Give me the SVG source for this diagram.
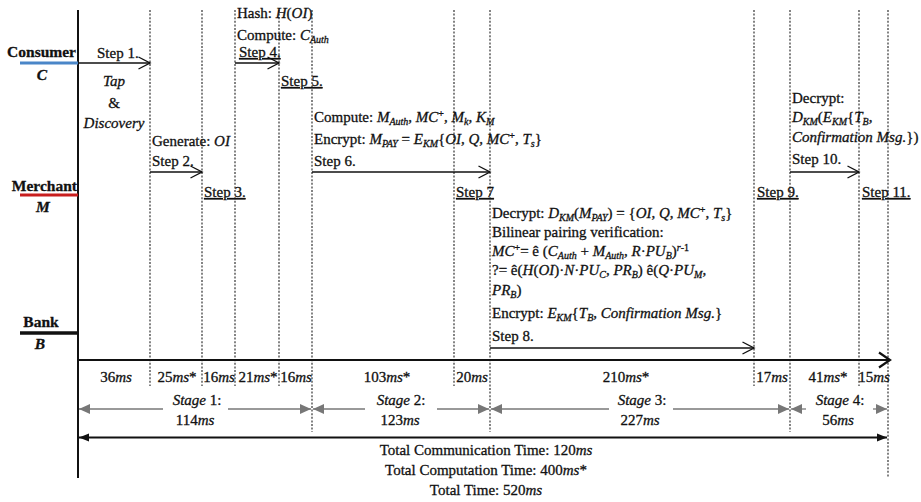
<svg xmlns="http://www.w3.org/2000/svg" width="921" height="502" viewBox="0 0 921 502">
<style>
text{font-family:"Liberation Serif","Times New Roman",serif;font-size:15px;fill:#111;stroke:#111;stroke-width:0.3}
.b{font-weight:bold}
.i{font-style:italic}
.sb{font-size:10px;baseline-shift:-3px}
.sp{font-size:10px;baseline-shift:5px}
.u{text-decoration:underline}
.m{text-anchor:middle}
.dot{stroke:#333;stroke-width:1.2;stroke-dasharray:2 1.6;fill:none}
.step{stroke:#111;stroke-width:1.4;fill:none;marker-end:url(#open)}
.stage{stroke:#777;stroke-width:1.3;fill:none}
</style>
<defs>
<marker id="open" viewBox="0 0 14 14" refX="12.5" refY="7" markerWidth="14" markerHeight="14" markerUnits="userSpaceOnUse" orient="auto"><path d="M1,1 L12.5,7 L1,13" fill="none" stroke="#111" stroke-width="1.4"/></marker>
<marker id="openBig" viewBox="0 0 14 18" refX="12" refY="9" markerWidth="14" markerHeight="18" markerUnits="userSpaceOnUse" orient="auto"><path d="M1,1.5 L12,9 L1,16.5" fill="none" stroke="#111" stroke-width="2.2"/></marker>
<marker id="grey" viewBox="0 0 10 10" refX="10" refY="5" markerWidth="11" markerHeight="11" markerUnits="userSpaceOnUse" orient="auto"><path d="M0,0.5 L10,5 L0,9.5 Z" fill="#777"/></marker>
<marker id="blk" viewBox="0 0 10 10" refX="10" refY="5" markerWidth="10" markerHeight="10" markerUnits="userSpaceOnUse" orient="auto-start-reverse"><path d="M0,1 L10,5 L0,9 Z" fill="#111"/></marker>
</defs>
<rect width="921" height="502" fill="#fff"/>

<g id="grid">
<line class="dot" x1="150" y1="10" x2="150" y2="386"/>
<line class="dot" x1="202" y1="10" x2="202" y2="386"/>
<line class="dot" x1="235" y1="10" x2="235" y2="386"/>
<line class="dot" x1="279" y1="10" x2="279" y2="386"/>
<line class="dot" x1="312" y1="10" x2="312" y2="432"/>
<line class="dot" x1="454" y1="10" x2="454" y2="386"/>
<line class="dot" x1="490" y1="10" x2="490" y2="432"/>
<line class="dot" x1="754" y1="10" x2="754" y2="386"/>
<line class="dot" x1="790" y1="10" x2="790" y2="432"/>
<line class="dot" x1="859" y1="10" x2="859" y2="386"/>
<line class="dot" x1="888" y1="10" x2="888" y2="478"/>
<line x1="78" y1="10" x2="78" y2="478" stroke="#111" stroke-width="2"/>
</g>

<g id="consumer">
<line x1="20" y1="63" x2="78" y2="63" stroke="#4a86c8" stroke-width="3"/>
<text class="b" x="76" y="57" text-anchor="end" style="font-size:15.5px">Consumer</text>
<text class="b i m" x="42" y="80" style="font-size:15.5px">C</text>
</g>
<g id="merchant">
<line x1="20" y1="195" x2="78" y2="195" stroke="#c81e1e" stroke-width="3"/>
<text class="b" x="77" y="191" text-anchor="end" style="font-size:15.5px">Merchant</text>
<text class="b i m" x="43" y="212" style="font-size:15.5px">M</text>
</g>
<g id="bank">
<line x1="20" y1="333" x2="78" y2="333" stroke="#111" stroke-width="3.5"/>
<text class="b m" x="41" y="327" style="font-size:15.5px">Bank</text>
<text class="b i m" x="40" y="349" style="font-size:15.5px">B</text>
</g>

<g id="connectors">
<line class="step" x1="78" y1="63" x2="150" y2="63"/>
<line class="step" x1="150" y1="172" x2="202" y2="172"/>
<line class="step" x1="235" y1="63" x2="279" y2="63"/>
<line class="step" x1="312" y1="172" x2="490" y2="172"/>
<line class="step" x1="490" y1="348" x2="754" y2="348"/>
<line class="step" x1="790" y1="172" x2="859" y2="172"/>
<line x1="78" y1="360" x2="890" y2="360" stroke="#111" stroke-width="2.2" marker-end="url(#openBig)"/>
</g>

<g id="step1">
<text x="97" y="58">Step 1.</text>
<text class="i m" x="114" y="86">Tap</text>
<text class="m" x="114" y="108">&amp;</text>
<text class="i m" x="114" y="128">Discovery</text>
</g>
<g id="step2">
<text x="152" y="146">Generate: <tspan class="i">OI</tspan></text>
<text x="152" y="166">Step 2.</text>
</g>
<g id="step3"><text class="u" x="204" y="197">Step 3.</text></g>
<g id="step4">
<text x="237" y="18">Hash: <tspan class="i">H</tspan>(<tspan class="i">OI</tspan>)</text>
<text x="237" y="40">Compute: <tspan class="i">C</tspan><tspan class="sb i">Auth</tspan></text>
<text class="u" x="239" y="57">Step 4.</text>
</g>
<g id="step5"><text class="u" x="281" y="86">Step 5.</text></g>
<g id="step6">
<text x="314" y="122">Compute: <tspan class="i">M</tspan><tspan class="sb i">Auth</tspan>, <tspan class="i">MC</tspan><tspan class="sp">+</tspan>, <tspan class="i">M</tspan><tspan class="sb i">k</tspan>, <tspan class="i">K</tspan><tspan class="sb i">M</tspan></text>
<text x="314" y="144">Encrypt: <tspan class="i">M</tspan><tspan class="sb i">PAY</tspan> = <tspan class="i">E</tspan><tspan class="sb i">KM</tspan>{<tspan class="i">OI</tspan>, <tspan class="i">Q</tspan>, <tspan class="i">MC</tspan><tspan class="sp">+</tspan>, <tspan class="i">T</tspan><tspan class="sb i">s</tspan>}</text>
<text x="314" y="166">Step 6.</text>
</g>
<g id="step7"><text class="u" x="456" y="197">Step 7</text></g>
<g id="step8">
<text x="492" y="218">Decrypt: <tspan class="i">D</tspan><tspan class="sb i">KM</tspan>(<tspan class="i">M</tspan><tspan class="sb i">PAY</tspan>) = {<tspan class="i">OI</tspan>, <tspan class="i">Q</tspan>, <tspan class="i">MC</tspan><tspan class="sp">+</tspan>, <tspan class="i">T</tspan><tspan class="sb i">s</tspan>}</text>
<text x="492" y="237">Bilinear pairing verification:</text>
<text x="492" y="256"><tspan class="i">MC</tspan><tspan class="sp">+</tspan>= ê (<tspan class="i">C</tspan><tspan class="sb i">Auth</tspan> + <tspan class="i">M</tspan><tspan class="sb i">Auth</tspan>, <tspan class="i">R</tspan>·<tspan class="i">PU</tspan><tspan class="sb i">B</tspan>)<tspan class="sp"><tspan class="i">r</tspan>-1</tspan></text>
<text x="492" y="275">?= ê(<tspan class="i">H</tspan>(<tspan class="i">OI</tspan>)·<tspan class="i">N</tspan>·<tspan class="i">PU</tspan><tspan class="sb i">C</tspan>, <tspan class="i">PR</tspan><tspan class="sb i">B</tspan>) ê(<tspan class="i">Q</tspan>·<tspan class="i">PU</tspan><tspan class="sb i">M</tspan>,</text>
<text x="492" y="295"><tspan class="i">PR</tspan><tspan class="sb i">B</tspan>)</text>
<text x="492" y="318">Encrypt: <tspan class="i">E</tspan><tspan class="sb i">KM</tspan>{<tspan class="i">T</tspan><tspan class="sb i">B</tspan>, <tspan class="i">Confirmation Msg.</tspan>}</text>
<text x="492" y="341">Step 8.</text>
</g>
<g id="step9"><text class="u" x="757" y="197">Step 9.</text></g>
<g id="step10">
<text x="792" y="103">Decrypt:</text>
<text x="792" y="122"><tspan class="i">D</tspan><tspan class="sb i">KM</tspan>(<tspan class="i">E</tspan><tspan class="sb i">KM</tspan>{<tspan class="i">T</tspan><tspan class="sb i">B</tspan>,</text>
<text x="792" y="142"><tspan class="i">Confirmation Msg.</tspan>})</text>
<text x="792" y="164">Step 10.</text>
</g>
<g id="step11"><text class="u" x="862" y="197">Step 11.</text></g>

<g id="timings">
<text class="m" x="116" y="382">36<tspan class="i">ms</tspan></text>
<text class="m" x="177" y="382">25<tspan class="i">ms</tspan>*</text>
<text class="m" x="219" y="382">16<tspan class="i">ms</tspan></text>
<text class="m" x="258" y="382">21<tspan class="i">ms</tspan>*</text>
<text class="m" x="296" y="382">16<tspan class="i">ms</tspan></text>
<text class="m" x="387" y="382">103<tspan class="i">ms</tspan>*</text>
<text class="m" x="472" y="382">20<tspan class="i">ms</tspan></text>
<text class="m" x="626" y="382">210<tspan class="i">ms</tspan>*</text>
<text class="m" x="772" y="382">17<tspan class="i">ms</tspan></text>
<text class="m" x="828" y="382">41<tspan class="i">ms</tspan>*</text>
<text class="m" x="874" y="382">15<tspan class="i">ms</tspan></text>
</g>

<g id="stages">
<line class="stage" x1="163" y1="409" x2="79" y2="409" marker-end="url(#grey)"/>
<line class="stage" x1="228" y1="409" x2="311" y2="409" marker-end="url(#grey)"/>
<text class="m" x="197" y="405"><tspan class="i">Stage</tspan> 1:</text>
<text class="m" x="195" y="425">114<tspan class="i">ms</tspan></text>
<line class="stage" x1="365" y1="409" x2="313" y2="409" marker-end="url(#grey)"/>
<line class="stage" x1="437" y1="409" x2="489" y2="409" marker-end="url(#grey)"/>
<text class="m" x="401" y="405"><tspan class="i">Stage</tspan> 2:</text>
<text class="m" x="400" y="425">123<tspan class="i">ms</tspan></text>
<line class="stage" x1="609" y1="409" x2="491" y2="409" marker-end="url(#grey)"/>
<line class="stage" x1="673" y1="409" x2="789" y2="409" marker-end="url(#grey)"/>
<text class="m" x="642" y="405"><tspan class="i">Stage</tspan> 3:</text>
<text class="m" x="640" y="425">227<tspan class="i">ms</tspan></text>
<line class="stage" x1="806" y1="409" x2="791" y2="409" marker-end="url(#grey)"/>
<line class="stage" x1="873" y1="409" x2="887" y2="409" marker-end="url(#grey)"/>
<text class="m" x="840" y="405"><tspan class="i">Stage</tspan> 4:</text>
<text class="m" x="838" y="425">56<tspan class="i">ms</tspan></text>
</g>

<g id="totals">
<line x1="79" y1="437.5" x2="887" y2="437.5" stroke="#111" stroke-width="1.8" marker-start="url(#blk)" marker-end="url(#blk)"/>
<text class="m" x="486" y="455">Total Communication Time: 120<tspan class="i">ms</tspan></text>
<text class="m" x="486" y="475">Total Computation Time: 400<tspan class="i">ms</tspan>*</text>
<text class="m" x="486" y="495">Total Time: 520<tspan class="i">ms</tspan></text>
</g>
</svg>
